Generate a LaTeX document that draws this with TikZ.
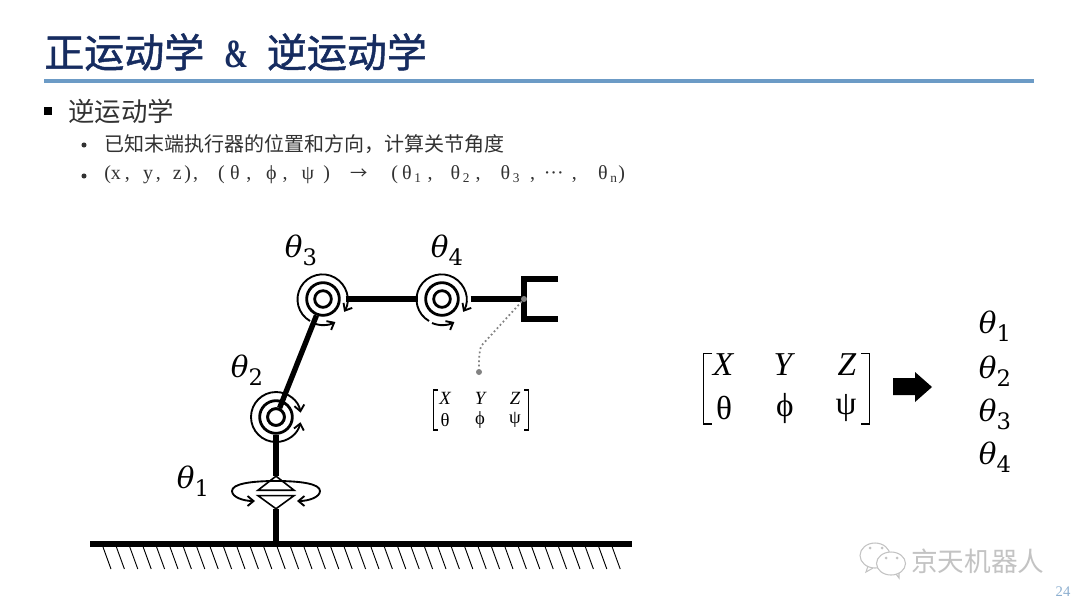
\documentclass[tikz,border=0pt]{standalone}
\usepackage{amsmath}
\usepackage{fontspec}
\usepackage{tikz}
\usetikzlibrary{arrows,arrows.meta,shapes,positioning}
\setmainfont{Liberation Serif}
\newfontfamily\cjkfont{Noto Sans CJK SC}
\newfontfamily\cjkheavy[FakeBold=1.2]{Noto Sans CJK SC}
\newfontfamily\thetafont{DejaVu Serif}
\definecolor{rlnavy}{RGB}{22,44,96}
\definecolor{rlblue}{RGB}{108,155,198}
\definecolor{rlpage}{RGB}{140,175,208}
\definecolor{rltext}{RGB}{50,50,50}
\definecolor{rlmark}{RGB}{195,195,195}
\definecolor{rldot}{RGB}{130,130,130}
\tikzstyle{titletext} = [inner sep=0pt, anchor=west, text=rlnavy, font=\cjkheavy\fontsize{30}{32}\selectfont]
\tikzstyle{headtext} = [inner sep=0pt, anchor=west, text=rltext, font=\cjkfont\fontsize{19.8}{22}\selectfont]
\tikzstyle{subtext} = [inner sep=0pt, anchor=west, text=rltext, font=\cjkfont\fontsize{15}{18}\selectfont]
\tikzstyle{subplain} = [inner sep=0pt, anchor=west, text=rltext, font=\fontsize{15}{18}\selectfont]
\tikzstyle{bulletdot} = [circle, fill=rltext, inner sep=0pt, minimum size=3.8pt]
\tikzstyle{angletext} = [inner sep=0pt, font=\thetafont\fontsize{22}{24}\selectfont]
\tikzstyle{smallentry} = [inner sep=0pt, font=\fontsize{14}{16}\selectfont]
\tikzstyle{bigentry} = [inner sep=0pt, font=\fontsize{25}{28}\selectfont]
\tikzstyle{jointin} = [circle, draw, line width=2.1pt, fill=white, inner sep=0pt, minimum size=12.5pt]
\tikzstyle{jointring} = [circle, draw, line width=2.1pt, inner sep=0pt, minimum size=24.5pt]
\tikzstyle{linkbar} = [line width=4pt]
\tikzstyle{turnarrow} = [line width=1.4pt, -{Straight Barb[length=4.5pt,width=7.5pt]}]
\tikzstyle{basetri} = [draw, isosceles triangle, line width=1.2pt, inner sep=0pt, outer sep=0pt, minimum width=27pt]
\tikzstyle{markline} = [rlmark, line width=0.8pt]
\tikzstyle{bracket} = [line width=0.9pt]
\newcommand{\angtxt}[2]{{\itshape #1}\raisebox{-0.28em}{\upshape\fontsize{17}{19}\selectfont #2}}
\newcommand{\subidx}[1]{\raisebox{-2pt}{\fontsize{10}{12}\selectfont #1}}
\begin{document}
\begin{tikzpicture}[x=0.75pt,y=-0.75pt]
\useasboundingbox (0,0) rectangle (1080,608);
\fill[white] (0,0) rectangle (1080,608);
% Title and rule
\node (title) [titletext] at (44,52) {正运动学\hspace{15pt}{\fontspec{Liberation Serif}\bfseries\scalebox{0.72}[1]{\&}}\hspace{14pt}逆运动学};
\coordinate (ruleL) at (44,81);
\coordinate (ruleR) at (1034,81);
\draw[rlblue, line width=2.4pt] (ruleL) -- (ruleR);
% Bullet lines
\node (headmark) [fill=black, inner sep=0pt, minimum size=6pt] at (48,111) {};
\node (head) [headtext] at (68,111) {逆运动学};
\node (submarkA) [bulletdot] at (84,145) {};
\node (subA) [subtext] at (104,144) {已知末端执行器的位置和方向\char"FF0C 计算关节角度};
\node (submarkB) [bulletdot] at (84,176) {};
\node (subB) [subplain] at (104,175) {(x\hspace{3pt},\hspace{10pt}y\hspace{2pt},\hspace{9pt}z\hspace{2pt})\hspace{1.5pt},\hspace{15pt}(\hspace{4pt}θ\hspace{5pt},\hspace{11pt}ϕ\hspace{4.5pt},\hspace{10.5pt}ψ\hspace{7pt})\hspace{15pt}{\cjkfont\fontsize{13}{15}\selectfont →}\hspace{18pt}(\hspace{3pt}θ\hspace{2pt}\subidx{1}\hspace{5pt},\hspace{13.5pt}θ\hspace{2pt}\subidx{2}\hspace{4.5pt},\hspace{15pt}θ\hspace{2pt}\subidx{3}\hspace{8pt},\hspace{6.5pt}···\hspace{6pt},\hspace{16pt}θ\hspace{2pt}\subidx{n}\hspace{1pt})};
% Ground
\coordinate (groundL) at (90,544);
\coordinate (groundR) at (632,544);
\coordinate (groundM) at (276,544);
\draw[line width=3.8pt] (groundL) -- (groundR);
\foreach \i in {0,...,38} {
  \draw[line width=0.7pt] (103+13.4*\i,547) -- (111+13.4*\i,569);
}
% Base joint
\node (baseup) [basetri, isosceles triangle apex angle=104, shape border rotate=90, minimum height=10.5pt] at (276,484) {};
\node (basedown) [basetri, isosceles triangle apex angle=108, shape border rotate=-90, minimum height=9.5pt] at (276,501.5) {};
\draw[linkbar] (groundM) -- (basedown.apex);
\draw[turnarrow] (276,481) .. controls (250,481) and (232,484) .. (232,491) .. controls (232,497) and (243,501) .. (255,501);
\draw[turnarrow] (276,481) .. controls (302,481) and (320,484) .. (320,491) .. controls (320,497) and (309,501) .. (297,501);
% Joints
\node (jointB) [jointin] at (276,417) {};
\node (jointC) [jointin] at (323,299) {};
\node (jointD) [jointin, right of=jointC, node distance=89.25pt] {};
\node (ringB) [jointring] at (jointB) {};
\node (ringC) [jointring] at (jointC) {};
\node (ringD) [jointring] at (jointD) {};
% Gripper
\coordinate (wrist) at (524,299);
\coordinate (gripT) at (558,279);
\coordinate (gripB) at (558,319);
\draw[linkbar, line cap=butt] (gripT) -- (524,279) -- (524,319) -- (gripB);
\draw[linkbar] (baseup.apex) -- (ringB);
\draw[linkbar] (jointB) -- (ringC);
\draw[linkbar] (ringC.east) ++(5,0) -- ([xshift=-5pt]ringD.west);
\draw[linkbar] (ringD.east) ++(11,0) -- (wrist);
\node (jointBtop) [jointin] at (276,417) {};
% Turning arrows
\draw[turnarrow] (276,442) arc (90:350:25);
\draw[turnarrow] (276,442) arc (90:12:25);
\draw[turnarrow] (310,321) arc (120:390:25);
\draw[turnarrow] (313,323) arc (113:62:26);
\draw[turnarrow] (429,321) arc (120:390:25);
\draw[turnarrow] (432,323) arc (113:62:26);
% Angle labels
\node (angA) [angletext] at (193,481) {\angtxt{θ}{1}};
\node (angB) [angletext] at (247,370) {\angtxt{θ}{2}};
\node (angC) [angletext] at (301,250) {\angtxt{θ}{3}};
\node (angD) [angletext] at (447,250) {\angtxt{θ}{4}};
% Pose link
\node (wristdot) [circle, fill=rldot, inner sep=0pt, minimum size=4.5pt] at (wrist) {};
\node (posedot) [circle, fill=rldot, inner sep=0pt, minimum size=4.5pt] at (479,372) {};
\draw[rldot, line width=1.3pt, dotted] (wristdot) -- (482,345) .. controls (479,349) and (479,360) .. (posedot);
% Small pose matrix
\draw[bracket] (438,390) -- (433.5,390) -- (433.5,430) -- (438,430);
\draw[bracket] (524,390) -- (528.5,390) -- (528.5,430) -- (524,430);
\node (sX) [smallentry] at (445,398) {\itshape X};
\node (sY) [smallentry] at (480,398) {\itshape Y};
\node (sZ) [smallentry] at (515,398) {\itshape Z};
\node (sT) [smallentry] at (445,420) {θ};
\node (sP) [smallentry] at (480,420) {ϕ};
\node (sS) [smallentry] at (515,420) {ψ};
% Big pose matrix
\draw[line width=1.3pt] (712,353.5) -- (703.5,353.5) -- (703.5,424) -- (712,424);
\draw[line width=1.3pt] (861,353.5) -- (869.5,353.5) -- (869.5,424) -- (861,424);
\node (bX) [bigentry] at (723,365) {\itshape X};
\node (bY) [bigentry] at (783,365) {\itshape Y};
\node (bZ) [bigentry] at (847,365) {\itshape Z};
\node (bT) [bigentry] at (724,408) {θ};
\node (bP) [bigentry] at (785,408) {ϕ};
\node (bS) [bigentry] at (846,408) {ψ};
\fill (893,378) -- (915,378) -- (915,372) -- (932,387) -- (915,402) -- (915,395) -- (893,395) -- cycle;
% Result list
\node (resA) [angletext] at (995,326) {\angtxt{θ}{1}};
\node (resB) [angletext] at (995,371) {\angtxt{θ}{2}};
\node (resC) [angletext] at (995,414) {\angtxt{θ}{3}};
\node (resD) [angletext] at (995,457) {\angtxt{θ}{4}};
% Watermark
\draw[markline] (875,555.5) ellipse (15 and 12.5);
\draw[markline] (868,566) -- (866,572) -- (873,568);
\fill[white] (891,563.5) ellipse (14.5 and 11.5);
\draw[markline] (891,563.5) ellipse (14.5 and 11.5);
\draw[markline] (896,574) -- (899,578) -- (899,573);
\fill[rlmark] (870,548) circle (1.5) (882,548) circle (1.5) (886,558) circle (1.5) (897,558) circle (1.5);
\node (mark) [inner sep=0pt, anchor=west, text=rlmark, font=\cjkfont\fontsize{20}{22}\selectfont] at (911,561) {京天机器人};
\node (page) [inner sep=0pt, text=rlpage, font=\fontsize{11}{13}\selectfont] at (1063,592) {24};
\end{tikzpicture}
\end{document}
